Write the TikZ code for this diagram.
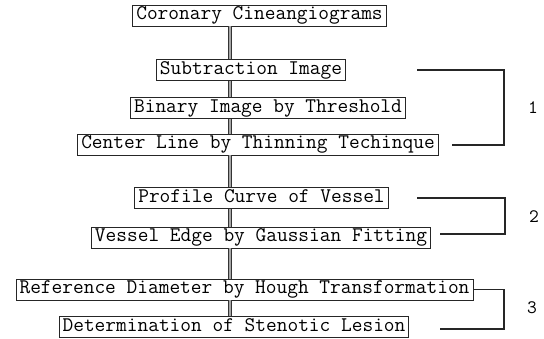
\documentclass[tikz,border=0pt]{standalone}
\usepackage{fontspec}

\tikzset{
  stepbox/.style={draw=black!85, line width=0.9pt, fill=white,
    font=\ttfamily\fontsize{20.8}{22}\selectfont,
    text height=13pt, text depth=4pt, inner xsep=3.5pt, inner ysep=2pt},
  spine/.style={draw=black!80, double=black!35, line width=0.9pt, double distance=1.3pt},
  brace/.style={draw=black!85, line width=1.1pt},
  grouplabel/.style={font=\ttfamily\fontsize{19}{21}\selectfont}
}

\begin{document}
\begin{tikzpicture}[x=1pt, y=-1pt]
    \useasboundingbox (0,0) rectangle (544,339);
    \coordinate (sp) at (230,0);
    % processing steps
    \node[stepbox] (cine) at (259.5,15.5) {Coronary Cineangiograms};
    \node[stepbox] (sub) at (251,70) {Subtraction Image};
    \node[stepbox] (bin) at (268,108) {Binary Image by Threshold};
    \node[stepbox] (cen) at (258,144.5) {Center Line by Thinning Techinque};
    \node[stepbox] (prof) at (261.5,198) {Profile Curve of Vessel};
    \node[stepbox] (edge) at (261,237.5) {Vessel Edge by Gaussian Fitting};
    \node[stepbox] (ref) at (244.5,289.5) {Reference Diameter by Hough Transformation};
    \node[stepbox] (det) at (234,327) {Determination of Stenotic Lesion};
    % flow line
    \foreach \a/\b in {cine/sub, sub/bin, bin/cen, cen/prof, prof/edge, edge/ref, ref/det}
      \draw[spine] (\a.south -| sp) -- (\b.north -| sp);
    % groups
    \coordinate (g1a) at (417,70);
    \coordinate (g1b) at (452,145);
    \draw[brace] (g1a) -- (504,70) -- (504,145) -- (g1b);
    \node[grouplabel] (one) at (533,108) {1};
    \coordinate (g2a) at (417,198);
    \coordinate (g2b) at (440,234);
    \draw[brace] (g2a) -- (505,198) -- (505,234) -- (g2b);
    \node[grouplabel] (two) at (534,217) {2};
    \coordinate (g3b) at (440,329);
    \draw[brace] (ref.east) -- (504,289.5) -- (504,329) -- (g3b);
    \node[grouplabel] (three) at (532,308) {3};
\end{tikzpicture}
\end{document}
